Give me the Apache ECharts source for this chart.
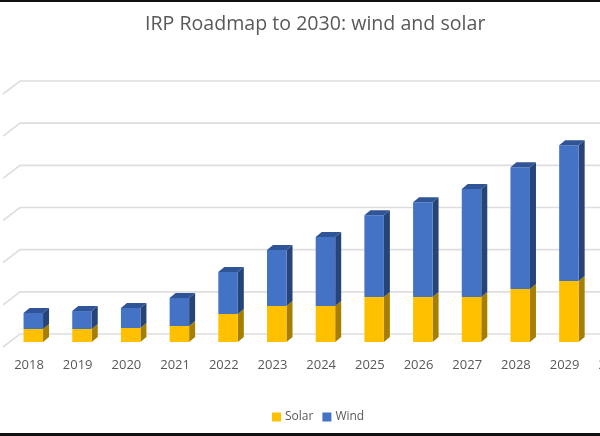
<!DOCTYPE html>
<html>
<head>
<meta charset="utf-8">
<style>html,body{margin:0;padding:0;background:#fff}#c{width:600px;height:436px}</style>
<script src="https://cdn.jsdelivr.net/npm/echarts@6/dist/echarts.min.js"></script>
</head>
<body>
<div id="c"></div>
<script>
const titleText = 'IRP Roadmap to 2030: wind and solar';
const years = ['2018','2019','2020','2021','2022','2023','2024','2025','2026','2027','2028','2029','2030'];
const solar = [1540,1540,1660,1900,3320,4270,4270,5330,5330,5330,6280,7230,null];
const wind  = [1900,2130,2370,3320,4980,6640,8180,9700,11250,12800,14450,16100,null];
const gridTicks = [0,5000,10000,15000,20000,25000,30000];

const chart = echarts.init(document.getElementById('c'), null, {renderer:'canvas'});
const DX = 6, DY = 5, FLOOR = 8, OFFX = 4.3, BAR = 19.5;

function shade(key, front, side, top, withTop){
  return function(params, api){
    const i = api.value(0), lo = api.value(1), hi = api.value(2);
    if (hi == null || isNaN(hi)) return null;
    const pLo = api.coord([i, lo]), pHi = api.coord([i, hi]);
    const cx = pLo[0] + OFFX, x0 = cx - BAR/2, x1 = cx + BAR/2;
    const yB = pLo[1] + FLOOR, yT = pHi[1] + FLOOR;
    const ch = [
      {type:'polygon', shape:{points:[[x1,yB],[x1+DX,yB-DY],[x1+DX,yT-DY],[x1,yT]]}, style:{fill:side}},
      {type:'rect', shape:{x:x0,y:yT,width:BAR,height:yB-yT}, style:{fill:front}}
    ];
    if (withTop) ch.push({type:'polygon', shape:{points:[[x0,yT],[x0+DX,yT-DY],[x1+DX,yT-DY],[x1,yT]]}, style:{fill:top}});
    return {type:'group', children:ch};
  };
}

const solarData = years.map((y,i)=>[i,0,solar[i]]);
const windData = years.map((y,i)=>[i,solar[i],solar[i]==null?null:solar[i]+wind[i]]);

chart.setOption({
  animation:false,
  backgroundColor:'#fff',
  title:{text:titleText,left:145,top:14,padding:0,
    textStyle:{fontFamily:'Open Sans',fontSize:19.6,fontWeight:'normal',color:'#595959'}},
  legend:{left:272,top:411,padding:0,itemWidth:9,itemHeight:9,itemGap:9,icon:'rect',
    data:['Solar','Wind'],
    textStyle:{fontFamily:'Open Sans',fontSize:12,color:'#595959',padding:[0,0,0,-1]}},
  grid:{left:4.65,top:81,width:633,height:253,outerBoundsMode:'none'},
  xAxis:{type:'category',data:years,axisLine:{show:false},axisTick:{show:false},
    axisLabel:{interval:0,margin:25,hideOverlap:false,fontFamily:'Open Sans',fontSize:13,color:'#595959'}},
  yAxis:{type:'value',min:0,max:30000,interval:5000,show:false},
  series:[
    {type:'custom',name:'walls',silent:true,z:1,data:gridTicks.map(v=>[v]),
      encode:{y:0},
      renderItem:function(params,api){
        const v = api.value(0);
        const p = api.coord([0,v]);
        const wall = p[0]-9;
        return {type:'polyline',shape:{points:[[p[0]-26,p[1]+13],[wall,p[1]],[620,p[1]]]},
          style:{fill:null,stroke:'#DEDEDE',lineWidth:1.6}};
      }},
    {type:'custom',name:'Solar',z:2,data:solarData,encode:{x:0,y:2},itemStyle:{color:'#FFC000'},
      renderItem:shade('s','#FFC000','#A67F00','#FFC000',false)},
    {type:'custom',name:'Wind',z:3,data:windData,encode:{x:0,y:2},itemStyle:{color:'#4472C4'},
      renderItem:shade('w','#4472C4','#264478','#2F5597',true)}
  ],
  graphic:[
    {type:'rect',shape:{x:0,y:0,width:600,height:2},style:{fill:'#111'}},
    {type:'rect',shape:{x:0,y:433,width:600,height:3},style:{fill:'#111'}}
  ]
});
</script>
</body>
</html>
